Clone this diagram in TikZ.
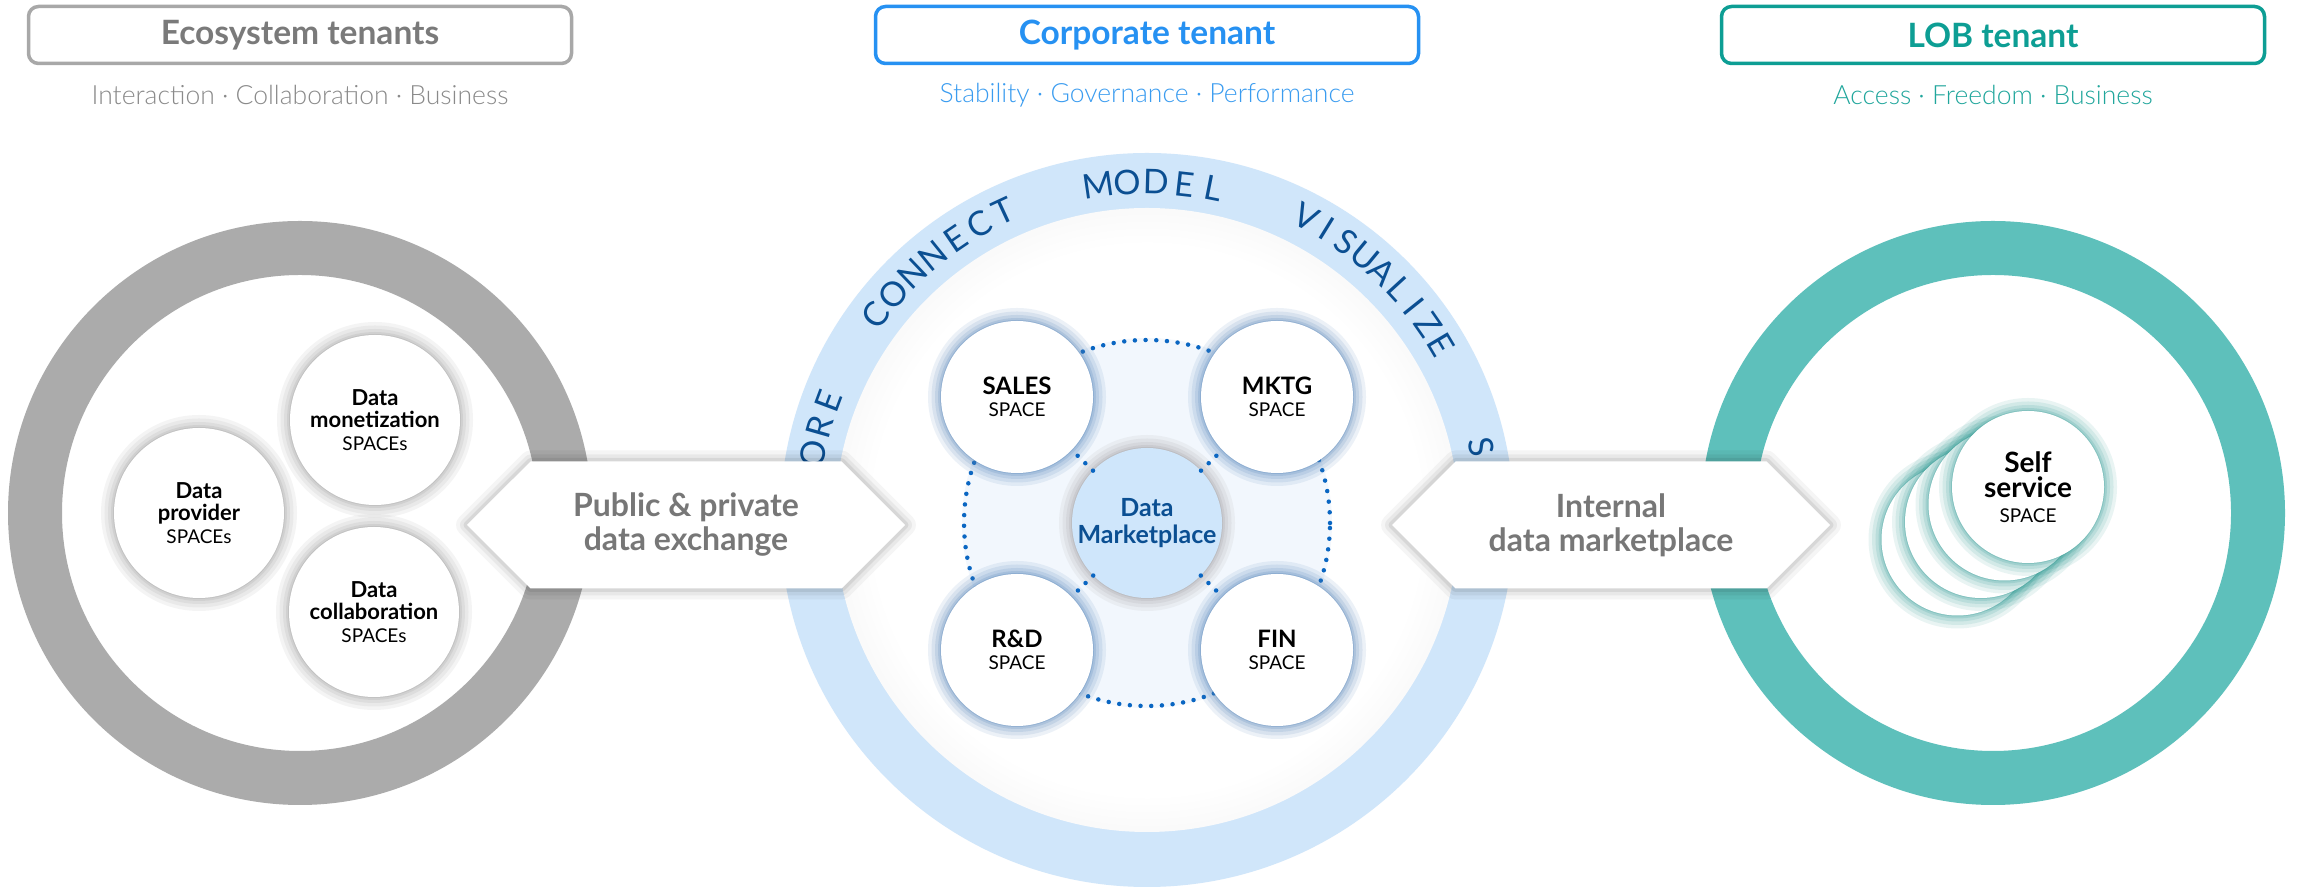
\documentclass[tikz,border=0pt]{standalone}
\usepackage{fontspec}
\setmainfont{Lato}
\newfontfamily\latolight{Lato Light}
\usetikzlibrary{shapes.symbols}
\definecolor{ringgray}{HTML}{ABABAB}
\definecolor{ringteal}{HTML}{5EC0BB}
\definecolor{ringblue}{HTML}{D0E6FA}
\definecolor{boxgray}{HTML}{A8A8A8}
\definecolor{titlegray}{HTML}{7A7A7A}
\definecolor{subgray}{HTML}{8A8A8A}
\definecolor{corpblue}{HTML}{2691F2}
\definecolor{subblue}{HTML}{3A9CF0}
\definecolor{lobteal}{HTML}{0D9E94}
\definecolor{subteal}{HTML}{20A69C}
\definecolor{arrowgray}{HTML}{777777}
\definecolor{letterblue}{HTML}{0B4F92}
\definecolor{dmfill}{HTML}{CFE6FB}
\definecolor{dotblue}{HTML}{0A66C2}
\definecolor{haloblue}{HTML}{4A7DB5}
\definecolor{halogray}{HTML}{9A9A9A}
\definecolor{haloteal}{HTML}{2E9A93}
\definecolor{innerblue}{HTML}{F2F7FD}
\definecolor{sphmid}{HTML}{E2E2E2}
\definecolor{sphedge}{HTML}{CCCCCC}
\pgfdeclareradialshading{spheresh}{\pgfpoint{0bp}{0bp}}{color(0bp)=(white); color(22bp)=(white); color(38bp)=(sphmid); color(50bp)=(sphedge)}
\begin{document}
\begin{tikzpicture}[x=1pt,y=1pt,
  halo/.style={preaction={draw=#1,opacity=0.10,line width=26pt},
               preaction={draw=#1,opacity=0.12,line width=19pt},
               preaction={draw=#1,opacity=0.14,line width=12pt},
               preaction={draw=#1,opacity=0.18,line width=6pt},
               preaction={draw=#1,opacity=0.25,line width=2pt}},
  tbox/.style={draw, rounded corners=10pt, line width=3.5pt, fill=white,
               minimum width=543pt, minimum height=57pt, inner sep=0pt,
               font=\fontsize{33.5}{36}\selectfont\bfseries},
  subtxt/.style={inner sep=0pt, font=\latolight\fontsize{26.5}{28}\selectfont},
  spacenode/.style={circle, fill=white, minimum size=152pt, inner sep=0pt, align=center,
               font=\fontsize{19}{22}\selectfont, text=black, halo=haloblue},
  econode/.style={circle, fill=white, minimum size=170pt, inner sep=0pt, align=center,
               font=\fontsize{19}{22.5}\selectfont, text=black, halo=halogray},
  selfnode/.style={circle, fill=white, minimum size=152pt, inner sep=0pt, align=center,
               font=\fontsize{19}{25}\selectfont, text=black, halo=haloteal},
  hexarrow/.style={signal, signal to=west and east, signal pointer angle=90,
               minimum width=438pt, minimum height=127pt, inner sep=0pt, fill=white,
               align=center, text=arrowgray, font=\fontsize{32}{34}\selectfont\bfseries,
               preaction={draw=black,opacity=0.04,line width=22pt,line join=round},
               preaction={draw=black,opacity=0.05,line width=14pt,line join=round},
               preaction={draw=black,opacity=0.07,line width=7pt,line join=round}},
  ringletter/.style={inner sep=0pt, text=letterblue, font=\fontsize{34}{34}\selectfont},
  dotline/.style={draw=dotblue, line width=4.5pt, line cap=round, dash pattern=on 0pt off 10.7pt}
]
\useasboundingbox (0,0) rectangle (2299,893);
\fill[white] (0,0) rectangle (2299,893);

% ---- rings
\fill[ringgray, even odd rule] (300,380) circle (292) (300,380) circle (238);
\fill[ringteal, even odd rule] (1993,380) circle (292) (1993,380) circle (238);
\fill[ringblue] (1147,373) circle (367);
\shade[shading=spheresh] (1147,373) circle (312);

% ---- ring words
\begin{scope}[shift={(1147,373)}]
  \foreach \ch [count=\i] in {O,R,E}{%
    \pgfmathsetmacro\ang{168.8-(\i-1)*4.65}
    \node[ringletter, rotate=\ang-90] (lo\i) at (\ang:340) {\ch};}
  \foreach \ch [count=\i] in {C,O,N,N,E,C,T}{%
    \pgfmathsetmacro\ang{143-(\i-1)*4.68}
    \node[ringletter, rotate=\ang-90] (lc\i) at (\ang:340) {\ch};}
  \foreach \ch [count=\i] in {M,O,D,E,L}{%
    \pgfmathsetmacro\ang{98.3-(\i-1)*4.9}
    \node[ringletter, rotate=\ang-90] (lm\i) at (\ang:338) {\ch};}
  \foreach \ch [count=\i] in {V,I,S,U,A,L,I,Z,E}{%
    \pgfmathsetmacro\ang{62.2-(\i-1)*3.93}
    \node[ringletter, rotate=\ang-90] (lv\i) at (\ang:342) {\ch};}
  \node[ringletter, rotate=12.3-90] (ls1) at (12.3:342) {S};
\end{scope}

% ---- marketplace core
\coordinate (core) at (1147,370);
\fill[innerblue] (core) circle (185);
\draw[dotline] (core) circle (183);
\node[spacenode] (sales) at (1017,496) {{\fontsize{24}{22}\selectfont\bfseries SALES}\\SPACE};
\node[spacenode] (mktg) at (1277,496) {{\fontsize{24}{22}\selectfont\bfseries MKTG}\\SPACE};
\node[spacenode] (rd) at (1017,243) {{\fontsize{24}{22}\selectfont\bfseries R\&D}\\SPACE};
\node[spacenode] (fin) at (1277,243) {{\fontsize{24}{22}\selectfont\bfseries FIN}\\SPACE};
\node[circle, fill=dmfill, minimum size=150pt, inner sep=0pt, align=center, text=letterblue,
      font=\fontsize{25}{27}\selectfont\bfseries, halo=halogray] (dm) at (core) {Data\\Marketplace};
\draw[dotline] (dm) -- (sales);
\draw[dotline] (dm) -- (mktg);
\draw[dotline] (dm) -- (rd);
\draw[dotline] (dm) -- (fin);

% ---- ecosystem spaces
\node[econode] (prov) at (199,380) {{\fontsize{22}{22.5}\selectfont\bfseries Data}\\{\fontsize{22}{22.5}\selectfont\bfseries provider}\\SPACEs};
\node[econode] (mon) at (375,473) {{\fontsize{22}{22.5}\selectfont\bfseries Data}\\{\fontsize{22}{22.5}\selectfont\bfseries monetization}\\SPACEs};
\node[econode] (col) at (374,281) {{\fontsize{22}{22.5}\selectfont\bfseries Data}\\{\fontsize{22}{22.5}\selectfont\bfseries collaboration}\\SPACEs};

% ---- self service stack
\node[selfnode] (s3) at (1957.5,353.5) {};
\node[selfnode] (s2) at (1981,371) {};
\node[selfnode] (s1) at (2004.5,388.5) {};
\node[selfnode] (self) at (2028,406) {{\fontsize{28}{25}\selectfont\bfseries Self}\\{\fontsize{28}{25}\selectfont\bfseries service}\\SPACE};

% ---- exchange arrows
\node[hexarrow] (pub) at (686,368) {Public \& private\\data exchange};
\node[hexarrow] (int) at (1611,368) {Internal\\data marketplace};

% ---- tenant headers
\node[tbox, draw=boxgray, text=titlegray] (eco) at (300,858) {Ecosystem tenants};
\node[tbox, draw=corpblue, text=corpblue] (corp) at (1147,858) {Corporate tenant};
\node[tbox, draw=lobteal, text=lobteal] (lob) at (1993,858) {LOB tenant};
\node[subtxt, text=subgray] (ecosub) at (300,798) {Interaction · Collaboration · Business};
\node[subtxt, text=subblue] (corpsub) at (1147,798) {Stability · Governance · Performance};
\node[subtxt, text=subteal] (lobsub) at (1993,798) {Access · Freedom · Business};
\end{tikzpicture}
\end{document}
